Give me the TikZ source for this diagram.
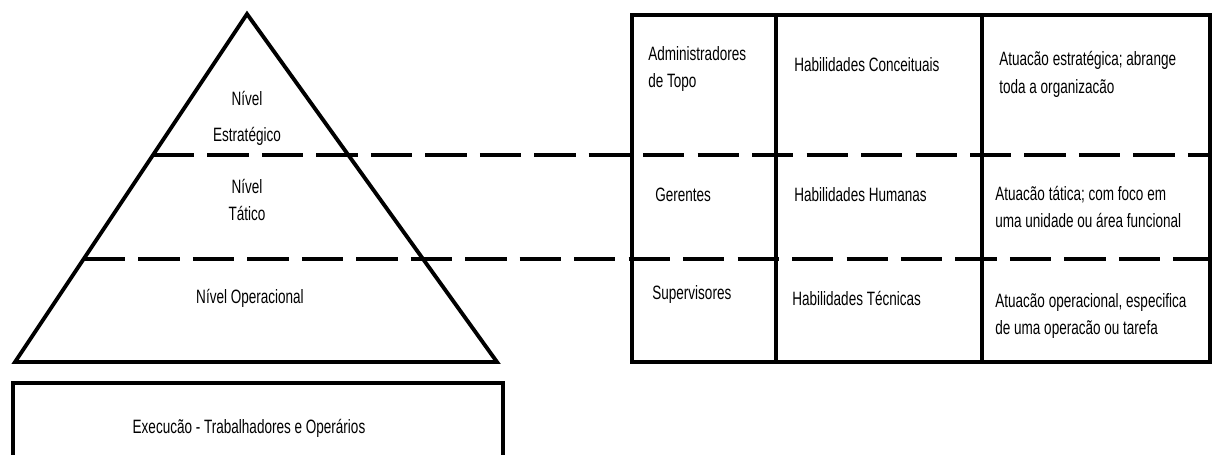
\documentclass[tikz,border=0pt]{standalone}
\usepackage{fontspec}
\setmainfont{Liberation Sans}[FakeStretch=0.7]
\begin{document}
\begin{tikzpicture}[x=0.02cm,y=-0.02cm,
  every node/.style={inner sep=0pt,font=\fontsize{11}{15.9}\selectfont},
  heavy/.style={line width=2.2pt},
  cut/.style={line width=2.3pt,dash pattern=on 23.5pt off 7.5pt},
  cell/.style={anchor=west,align=left}]
  \useasboundingbox (0,0) rectangle (1212,455);
  % pyramid
  \coordinate (top) at (247,14);
  \coordinate (bl) at (15,362);
  \coordinate (br) at (497,362);
  \draw[heavy,line join=miter] (top) -- (br) -- (bl) -- cycle;
  \node (n1) at (247,98) {Nível};
  \node (n2) at (247,136) {Estratégico};
  \node[align=center] (tat) at (247,200) {Nível\\Tático};
  \node (op) at (250,298) {Nível Operacional};
  % base box
  \coordinate (bx1) at (13,383);
  \coordinate (bx2) at (503,480);
  \draw[heavy] (bx1) rectangle (bx2);
  \node (exec) at (249,428) {Execucão - Trabalhadores e Operários};
  % table
  \coordinate (t1) at (632,15);
  \coordinate (t2) at (1210,362);
  \draw[heavy] (t1) rectangle (t2);
  \draw[heavy] (776,15) -- (776,362);
  \draw[heavy] (982,15) -- (982,362);
  % level lines
  \coordinate (d1a) at (153,155);
  \coordinate (d1b) at (1212,155);
  \coordinate (d2a) at (84,259);
  \coordinate (d2b) at (1212,259);
  \draw[cut] (d1a) -- (d1b);
  \draw[cut] (d2a) -- (d2b);
  % cells
  \node[cell] (adm) at (648,69) {Administradores\\de Topo};
  \node[cell] (hc) at (794,65) {Habilidades Conceituais};
  \node[cell] (ae) at (999,74) {Atuacão estratégica; abrange\\toda a organizacão};
  \node[cell] (ger) at (655,195) {Gerentes};
  \node[cell] (hh) at (794,195) {Habilidades Humanas};
  \node[cell] (at) at (995,207) {Atuacão tática; com foco em\\uma unidade ou área funcional};
  \node[cell] (sup) at (652,295) {Supervisores};
  \node[cell] (ht) at (792,298) {Habilidades Técnicas};
  \node[cell] (ao) at (995,316) {Atuacão operacional, especifica\\de uma operacão ou tarefa};
\end{tikzpicture}
\end{document}
